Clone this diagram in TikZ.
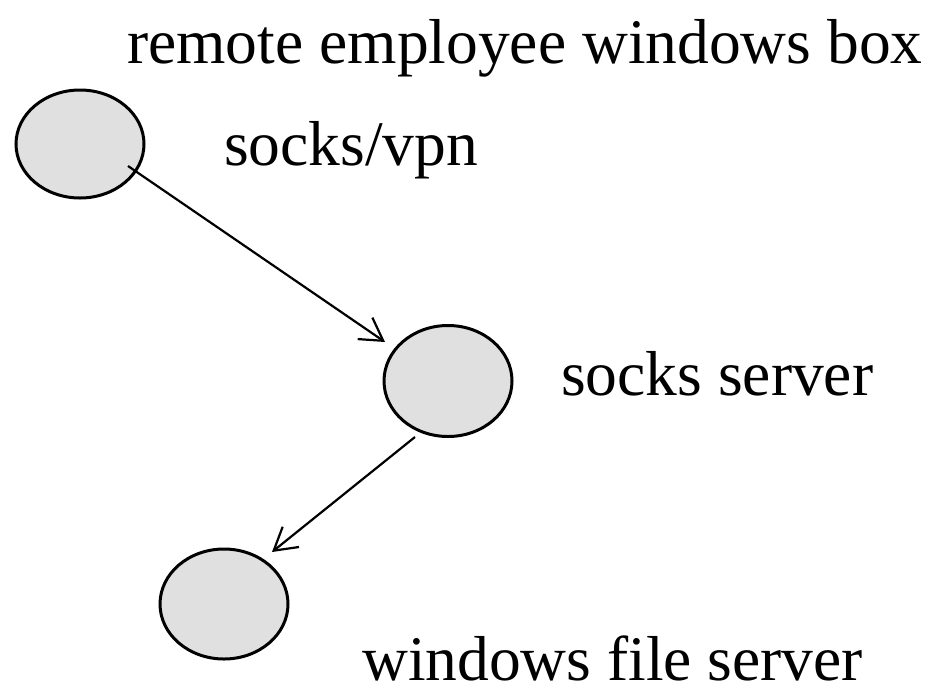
\documentclass[tikz,border=0pt]{standalone}
\usepackage{fontspec}
\setmainfont{Liberation Serif}
\usetikzlibrary{arrows.meta,shapes.geometric,calc}
\definecolor{nodegray}{RGB}{224,224,224}
\tikzset{
  hostnode/.style={ellipse,draw=black,fill=nodegray,line width=3pt,minimum width=128pt,minimum height=108pt,inner sep=0pt},
  hostlabel/.style={anchor=base west,inner sep=0pt,font=\fontsize{63.5}{70}\selectfont},
  conn/.style={line width=2.2pt,-{Straight Barb[length=22pt,width=26pt,line width=2.2pt]}}
}
\begin{document}
\begin{tikzpicture}[x=1pt,y=-1pt]
\useasboundingbox (0,0) rectangle (936,686);
\node[hostnode] (e1) at (80,144) {};
\node[hostnode,minimum height=111pt] (e2) at (448,381) {};
\node[hostnode,minimum height=110pt] (e3) at (224,604) {};
\node[hostlabel] (t0) at (127,63) {remote employee windows box};
\node[hostlabel] (t1) at (224,165) {socks/vpn};
\node[hostlabel] (t2) at (561,395) {socks server};
\node[hostlabel,text depth=0pt] (t3) at (362,680) {windows file server};
\coordinate (a1s) at ($(e1.center)+(48,22)$);
\coordinate (a1e) at ($(e2.center)+(-63,-39)$);
\coordinate (a2s) at ($(e2.center)+(-33,56)$);
\coordinate (a2e) at ($(e3.center)+(48,-52)$);
\draw[conn] (a1s) -- (a1e);
\draw[conn] (a2s) -- (a2e);
\end{tikzpicture}
\end{document}
